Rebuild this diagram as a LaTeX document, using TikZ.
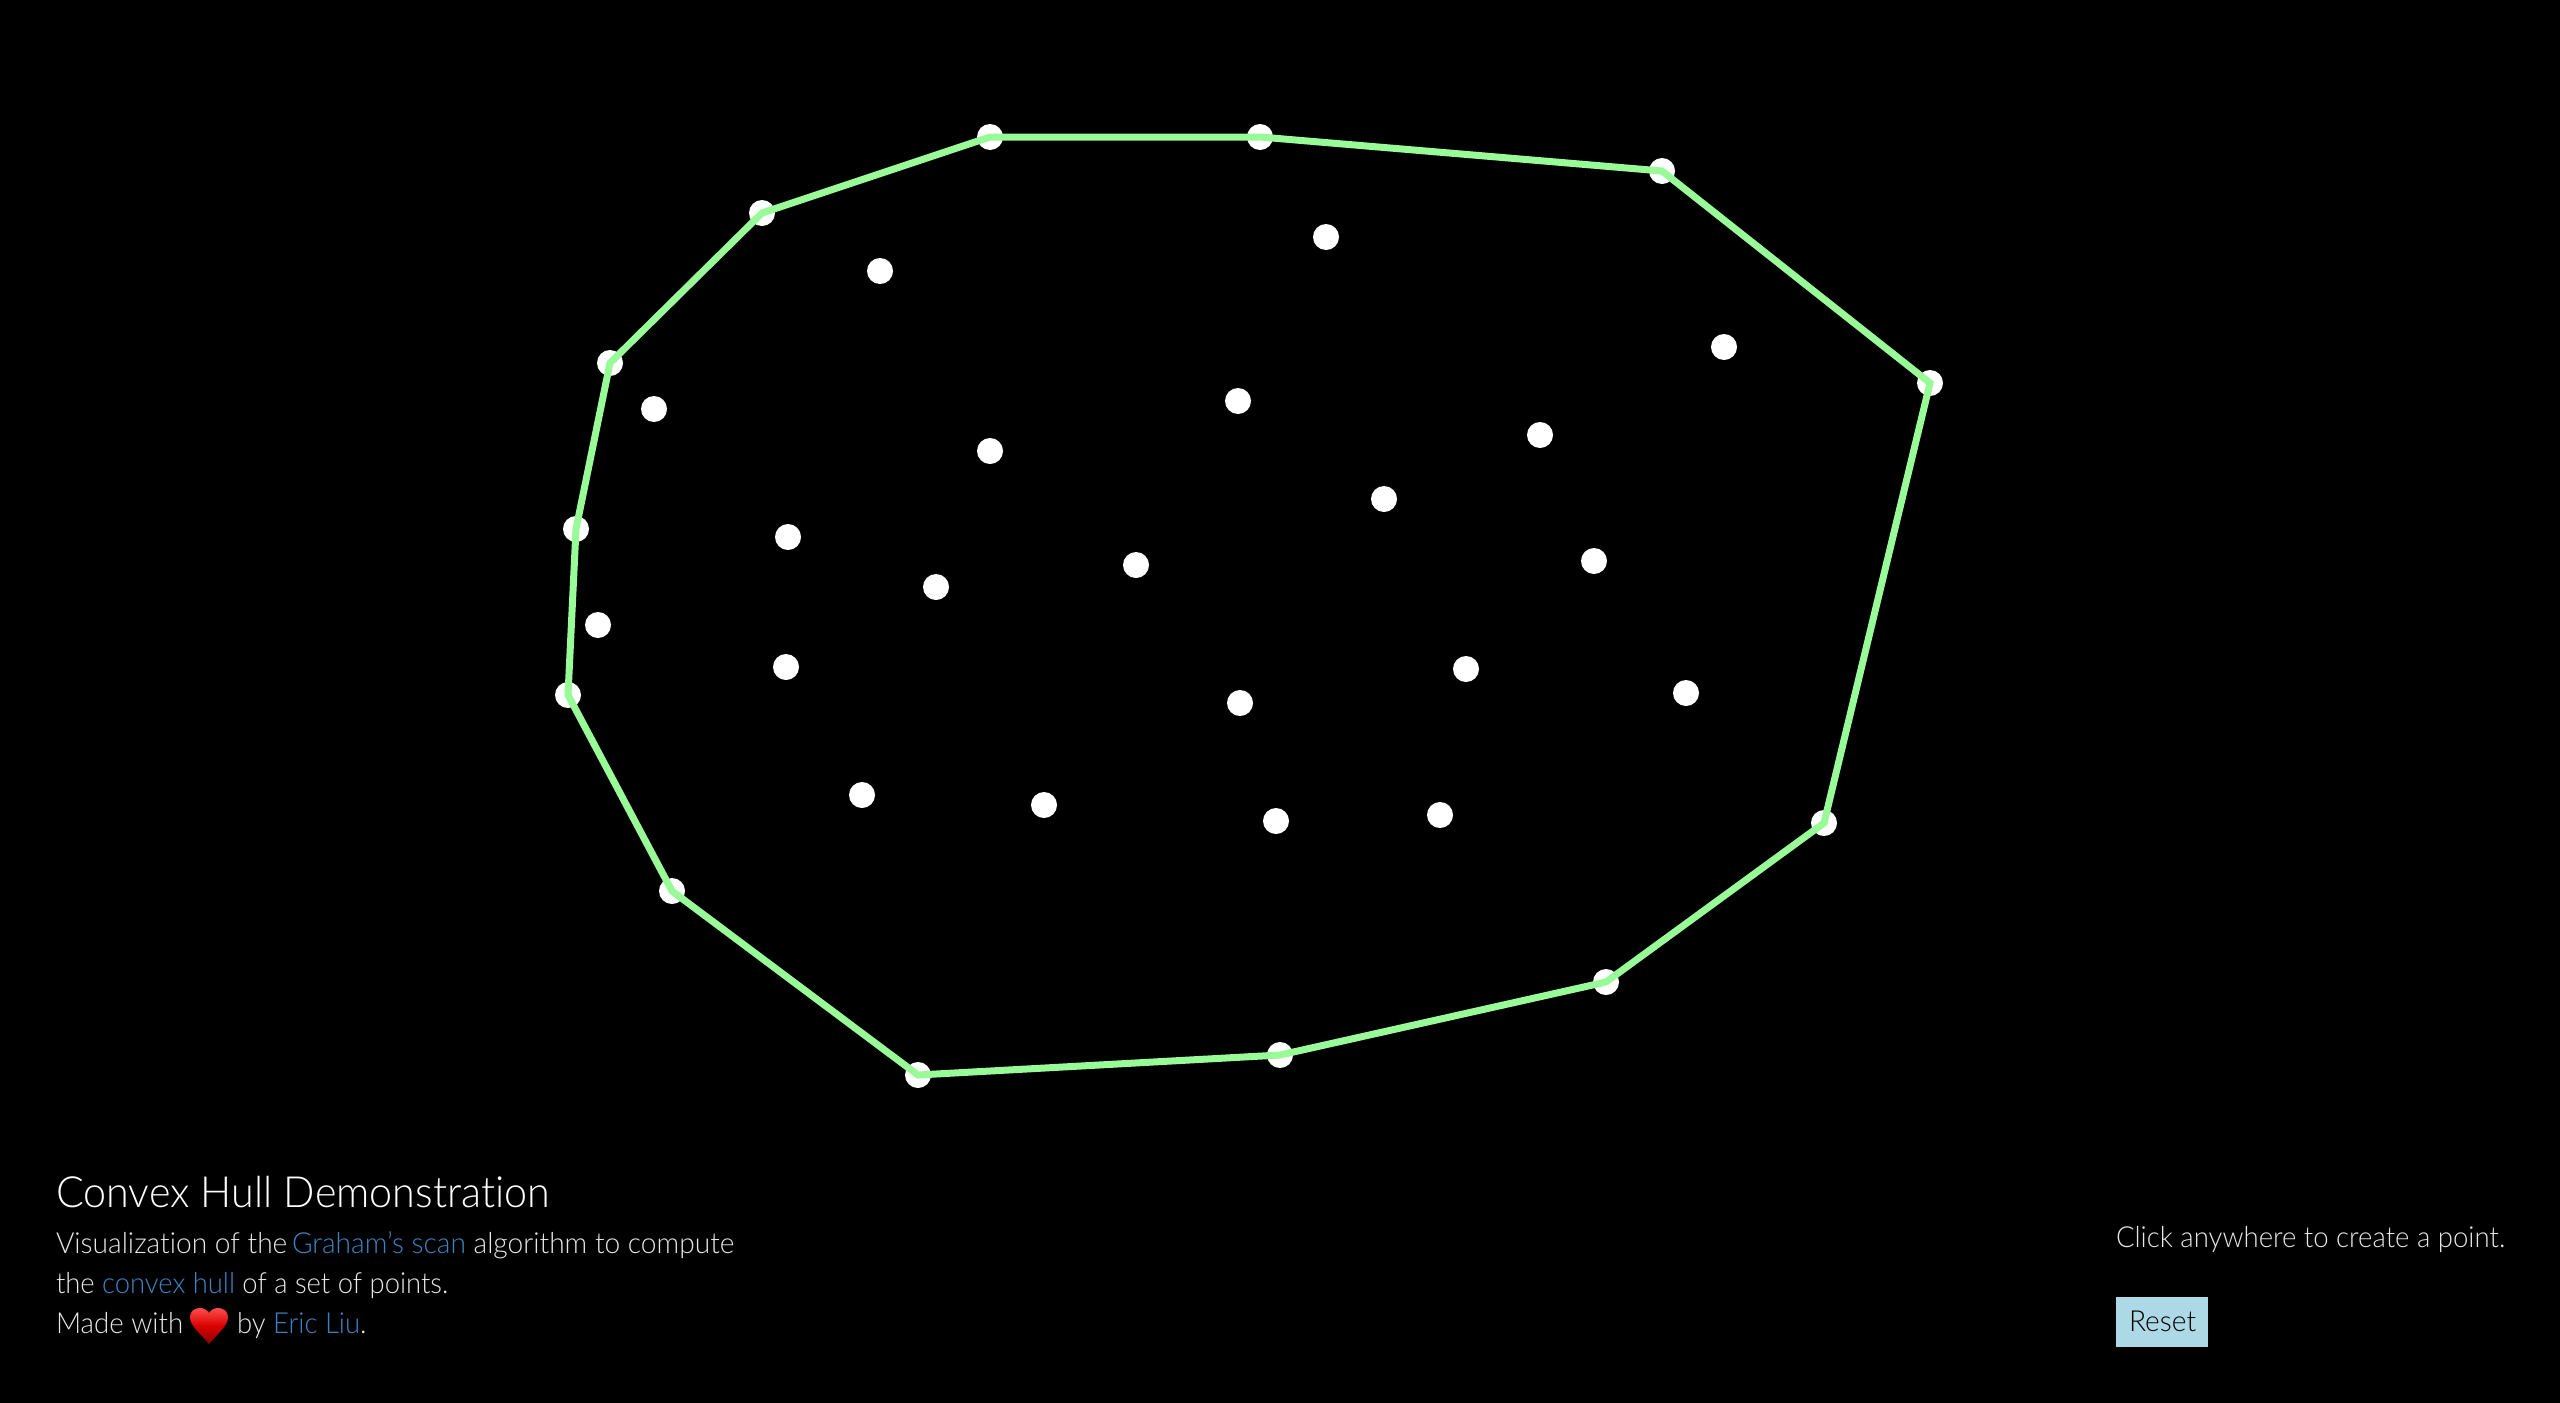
\documentclass[tikz,border=0pt]{standalone}
\usepackage{fontspec}
\setmainfont{Lato Light}[RawFeature={-liga}]
\definecolor{hullc}{HTML}{98FB98}
\definecolor{linkc}{HTML}{3A84C4}
\definecolor{bodyc}{HTML}{E8E8E8}
\definecolor{btn}{HTML}{ADD8E6}
\begin{document}
\begin{tikzpicture}[x=1pt,y=-1pt,
  dot/.style={circle,fill=white,draw=none,minimum size=26pt,inner sep=0pt},
  hull/.style={draw=hullc,line width=7pt,line join=miter},
  txt/.style={anchor=base west,inner sep=0pt,outer sep=0pt,text=bodyc}]
\useasboundingbox (0,0) rectangle (2560,1403);
\fill[black] (0,0) rectangle (2560,1403);
% hull points
\foreach \n/\x/\y in {h1/990/137,h2/1260/137,h3/1662/171,h4/1930/383,h5/1824/823,h6/1606/982,h7/1280/1055,h8/918/1075,h9/672/891,h10/568/695,h11/576/529,h12/610/363,h13/762/213}
  \node[dot] (\n) at (\x,\y) {};
% interior points
\foreach \n/\x/\y in {p1/880/271,p2/1326/237,p3/1724/347,p4/654/409,p5/1238/401,p6/1540/435,p7/990/451,p8/1384/499,p9/788/537,p10/1594/561,p11/1136/565,p12/936/587,p13/598/625,p14/786/667,p15/1466/669,p16/1686/693,p17/1240/703,p18/862/795,p19/1044/805,p20/1276/821,p21/1440/815}
  \node[dot] (\n) at (\x,\y) {};
\draw[hull] (h1.center)--(h2.center)--(h3.center)--(h4.center)--(h5.center)--(h6.center)--(h7.center)--(h8.center)--(h9.center)--(h10.center)--(h11.center)--(h12.center)--(h13.center)--cycle;
% text
\node[txt,text=white,font=\fontsize{43}{43}\selectfont] (title) at (56,1207) {\scalebox{0.96}[1]{Convex Hull Demonstration}};
\node[txt,font=\fontsize{29}{29}\selectfont] (l1) at (56,1253) {\scalebox{0.97}[1]{Visualization of the\hspace{-3pt} \textcolor{linkc}{Graham's scan} algorithm to compute}};
\node[txt,font=\fontsize{29}{29}\selectfont] (l2) at (56,1293) {\scalebox{0.945}[1]{the \textcolor{linkc}{convex hull} of a set of points.}};
\node[txt,font=\fontsize{29}{29}\selectfont] (l3a) at (56,1333) {\scalebox{0.955}[1]{Made with}};
\node[txt,font=\fontsize{29}{29}\selectfont] (l3b) at (237,1333) {\scalebox{0.95}[1]{by \textcolor{linkc}{Eric Liu}\textcolor{bodyc}{.}}};
\shade[top color=red!70!white,bottom color=red!55!black,middle color=red!85!black] (209,1344)
 .. controls (200,1333) and (190,1326) .. (190,1317)
 .. controls (190,1311) and (195,1308) .. (200,1308)
 .. controls (204,1308) and (207,1310) .. (209,1313)
 .. controls (211,1310) and (214,1308) .. (218,1308)
 .. controls (223,1308) and (228,1311) .. (228,1317)
 .. controls (228,1326) and (218,1333) .. (209,1344) -- cycle;
\node[txt,font=\fontsize{29}{29}\selectfont] (click) at (2116,1247) {\scalebox{0.95}[1]{Click anywhere to create a point.}};
\node[fill=btn,draw=none,inner sep=0pt,minimum width=92pt,minimum height=50pt,anchor=north west] (reset) at (2116,1297) {};
\node[txt,text=black,font=\fontsize{29}{29}\selectfont] (resetl) at (2129,1331) {\scalebox{0.97}[1]{Reset}};
\end{tikzpicture}
\end{document}
